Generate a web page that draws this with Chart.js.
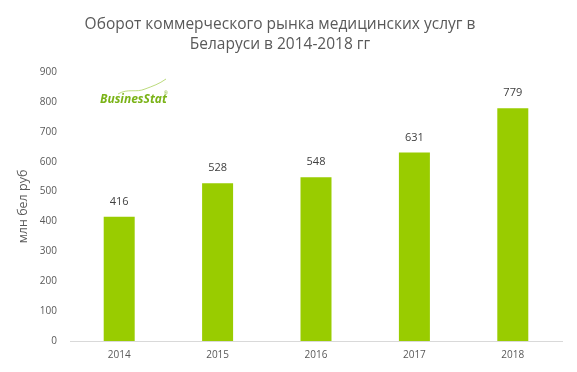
<!DOCTYPE html>
<html>
<head>
<meta charset="utf-8">
<script src="https://cdn.jsdelivr.net/npm/chart.js@4/dist/chart.umd.min.js"></script>
<style>
  html, body { margin: 0; padding: 0; background: #fff; }
  #wrap { width: 577px; height: 372px; }
</style>
</head>
<body>
<div id="wrap"><canvas id="Chart" width="577" height="372"></canvas></div>
<script>
const years = ["2014", "2015", "2016", "2017", "2018"];
const turnover = [416, 528, 548, 631, 779];
const yTicks = [0, 100, 200, 300, 400, 500, 600, 700, 800, 900];
const titleLines = ["Оборот коммерческого рынка медицинских услуг в", "Беларуси в 2014-2018 гг"];
const yTitle = "млн бел руб";

const ctx = document.getElementById("Chart");

// заголовок, подписи значений, логотип
const labelsPlugin = {
  id: "labels",
  afterDatasetsDraw(chart) {
    const c = chart.ctx;
    const meta = chart.getDatasetMeta(0);
    c.save();
    // заголовок
    c.font = "15.5px 'Open Sans', sans-serif";
    c.fillStyle = "#595959";
    c.textAlign = "center";
    c.textBaseline = "middle";
    c.fillText(titleLines[0], 280, 25);
    c.fillText(titleLines[1], 280, 45);

    c.font = "11px 'Open Sans', sans-serif";
    c.fillStyle = "#404040";
    meta.data.forEach((bar, i) => {
      c.fillText(turnover[i], bar.x, bar.y - 15);
    });
    // логотип BusinesStat
    c.font = "italic bold 12px 'Open Sans', sans-serif";
    c.fillStyle = "#7ab317";
    c.textAlign = "left";
    c.textBaseline = "alphabetic";
    c.fillText("BusinesStat", 100, 103);
    c.font = "5px sans-serif";
    c.fillText("®", 164, 95);
    c.strokeStyle = "#a9d05a";
    c.lineWidth = 0.8;
    c.beginPath();
    c.moveTo(118, 94);
    c.bezierCurveTo(128, 88, 136, 93, 145, 89);
    c.bezierCurveTo(153, 86, 159, 84, 166, 79);
    c.stroke();
    c.restore();
  },
};

const chart = new Chart(ctx, {
  type: "bar",
  data: {
    labels: years,
    datasets: [
      {
        data: turnover,
        backgroundColor: "#99cc00",
        barPercentage: 0.315,
        categoryPercentage: 1,
      },
    ],
  },
  plugins: [labelsPlugin],
  options: {
    responsive: false,
    animation: false,
    layout: { padding: { left: 10, right: 15, top: 72, bottom: 0 } },
    plugins: {
      legend: { display: false },
      tooltip: { enabled: false },
      title: { display: false },
    },
    scales: {
      x: {
        grid: { display: false, drawTicks: false },
        border: { color: "#d9d9d9", width: 1 },
        ticks: {
          color: "#595959",
          font: { family: "'Open Sans', sans-serif", size: 10 },
          padding: 8,
        },
        afterFit: (axis) => {
          axis.height = 31;
        },
      },
      y: {
        min: 0,
        max: 900,
        afterBuildTicks: (axis) => {
          axis.ticks = yTicks.map((v) => ({ value: v }));
        },
        afterFit: (axis) => {
          axis.width = 60;
        },
        grid: { display: false, drawTicks: false },
        border: { display: false },
        ticks: {
          color: "#595959",
          font: { family: "'Open Sans', sans-serif", size: 10 },
          padding: 13,
        },
        title: {
          display: true,
          text: yTitle,
          color: "#595959",
          font: { family: "'Open Sans', sans-serif", size: 12.5 },
          padding: { top: 6, bottom: 4 },
        },
      },
    },
  },
});
</script>
</body>
</html>
